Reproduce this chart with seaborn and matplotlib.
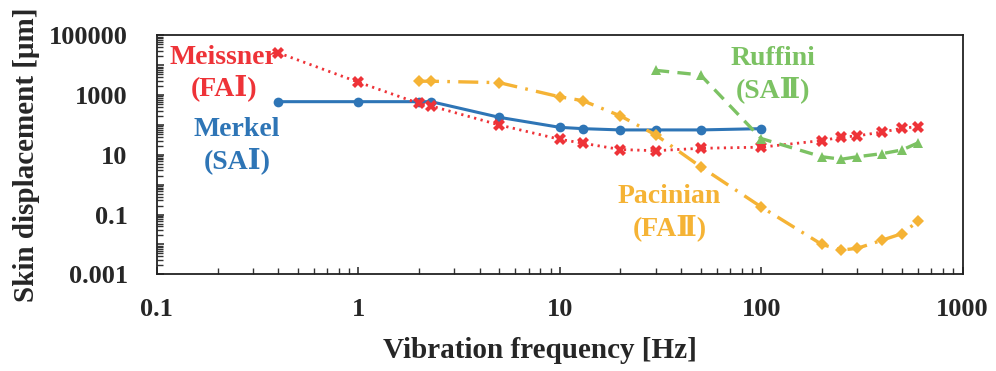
import math
import matplotlib
matplotlib.use("Agg")
import matplotlib.pyplot as plt
import matplotlib.ticker as mticker
import seaborn as sns
import pandas as pd

# frequencies [Hz] and thresholds [um]
merkel_f = [0.4, 1, 2, 2.3, 5, 10, 13, 20, 30, 50, 100]
merkel_d = [600, 600, 600, 600, 180, 83, 75, 68, 68, 68, 75]

meissner_f = [0.4, 1, 2, 2.3, 5, 10, 13, 20, 30, 50, 100, 200, 250, 300, 400, 500, 600]
meissner_d = [26000, 2700, 525, 430, 100, 33, 24.5, 15, 13.7, 16.5, 18, 30, 39, 43, 58, 77, 88]

pacinian_f = [2, 2.3, 5, 10, 13, 20, 30, 50, 100, 200, 250, 300, 400, 500, 600]
pacinian_d = [2900, 2900, 2600, 870, 650, 200, 46, 4.0, 0.18, 0.01, 0.0065, 0.0074, 0.014, 0.023, 0.06]

ruffini_f = [30, 50, 100, 200, 250, 300, 400, 500, 600]
ruffini_d = [6700, 4700, 35, 8.6, 7.1, 8.6, 11, 14.5, 25]

BLUE = '#2E75B6'
RED = '#EE3338'
ORANGE = '#F5B335'
GREEN = '#7CC263'

sns.set_style('ticks')
plt.rcParams['font.family'] = ['Liberation Serif', 'DejaVu Serif']
plt.rcParams['font.weight'] = 'bold'

fig, ax = plt.subplots(figsize=(9.96, 3.71), dpi=100)
fig.subplots_adjust(left=0.1575, right=0.9665, bottom=0.2606, top=0.9049)

series = [
    (merkel_f, merkel_d, BLUE, 'o', 7, '-', 2.2),
    (meissner_f, meissner_d, RED, 'X', 8, (0, (0.8, 1.6)), 2.0),
    (pacinian_f, pacinian_d, ORANGE, 'D', 6.3, (0, (6, 2.5, 0.8, 2.5)), 2.4),
    (ruffini_f, ruffini_d, GREEN, '^', 7.5, (0, (4, 2.5)), 2.4),
]
for f, d, color, marker, ms, ls, lw in series:
    df = pd.DataFrame({'freq': f, 'disp': d})
    sns.lineplot(data=df, x='freq', y='disp', ax=ax, color=color, marker=marker,
                 markersize=ms, markeredgewidth=0, linestyle=ls, linewidth=lw,
                 sort=False)

ax.set_xscale('log')
ax.set_yscale('log')
ax.set_xlim(0.1, 1000)
ax.set_ylim(0.001, 100000)

ax.xaxis.set_major_locator(mticker.LogLocator(base=10))
ax.xaxis.set_minor_locator(mticker.LogLocator(base=10, subs=range(2, 10)))
ax.xaxis.set_major_formatter(mticker.FuncFormatter(lambda v, p: f'{v:g}'))
ax.yaxis.set_major_locator(mticker.LogLocator(base=10, numticks=20))
ax.yaxis.set_minor_locator(mticker.LogLocator(base=10, subs=range(2, 10), numticks=20))
ax.yaxis.set_major_formatter(mticker.FuncFormatter(
    lambda v, p: f'{v:g}' if round(math.log10(v)) % 2 == 1 else ''))
ax.yaxis.set_minor_formatter(mticker.NullFormatter())
ax.xaxis.set_minor_formatter(mticker.NullFormatter())

ax.tick_params(axis='both', which='both', direction='in', color='#333333')
ax.tick_params(axis='both', which='major', length=5, width=1.2, labelsize=19)
ax.tick_params(axis='both', which='minor', length=4, width=1.0)
ax.tick_params(axis='y', which='major', pad=21)
ax.tick_params(axis='x', which='major', pad=17)
for lab in ax.get_xticklabels() + ax.get_yticklabels():
    lab.set_fontweight('bold')
for sp in ax.spines.values():
    sp.set_linewidth(1.3)
    sp.set_color('#222222')

ax.set_xlabel('Vibration frequency [Hz]', fontsize=21, fontweight='bold')
ax.xaxis.set_label_coords(0.476, -0.262)
ax.set_ylabel('Skin displacement [μm]', fontsize=21, fontweight='bold', labelpad=6)

fam = ['Liberation Serif', 'DejaVu Serif']
kw = dict(fontsize=20, fontweight='bold', ha='center', va='center',
          linespacing=1.24, family=fam)
ax.text(0.215, 5400, 'Meissner\n(FAⅠ)', color=RED, **kw)
ax.text(0.25, 20, 'Merkel\n(SAⅠ)', color=BLUE, **kw)
ax.text(35, 0.12, 'Pacinian\n(FAⅡ)', color=ORANGE, **kw)
ax.text(114, 4900, 'Ruffini\n(SAⅡ)', color=GREEN, **kw)

fig.savefig('out.png', dpi=100)
